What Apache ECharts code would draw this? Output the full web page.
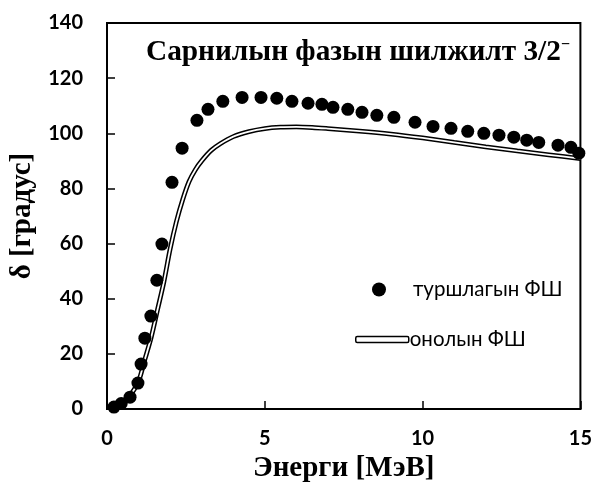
<!DOCTYPE html>
<html>
<head>
<meta charset="utf-8">
<script src="https://cdn.jsdelivr.net/npm/echarts@6/dist/echarts.min.js"></script>
<style>
  html, body { margin: 0; padding: 0; background: #fff; }
  #chart { width: 595px; height: 488px; }
</style>
</head>
<body>
<div id="chart"></div>
<script>
// Энерги (МэВ) ба фазын шилжилт (градус): туршлагын утгууд
const expEnergy = [0.22, 0.45, 0.73, 0.98, 1.08, 1.20, 1.39, 1.58, 1.74, 2.06, 2.38, 2.85, 3.20, 3.67, 4.28, 4.88,
  5.38, 5.86, 6.37, 6.81, 7.16, 7.63, 8.08, 8.55, 9.09, 9.76, 10.33, 10.90, 11.43, 11.94, 12.42, 12.89,
  13.30, 13.68, 14.29, 14.70, 14.95];
const expPhase = [0.7, 2.0, 4.3, 9.4, 16.3, 25.7, 33.7, 46.7, 59.8, 82.2, 94.6, 104.7, 108.7, 111.6, 113.0, 113.0,
  112.7, 111.6, 110.9, 110.5, 109.4, 108.7, 107.6, 106.5, 105.8, 104.0, 102.5, 101.8, 100.7, 100.0, 99.3, 98.6,
  97.5, 96.7, 95.7, 94.9, 92.8];

// Онолын муруй
const theoryEnergy = [0.2, 0.5, 0.8, 1.0, 1.2, 1.4, 1.6, 1.8, 2.0, 2.2, 2.4, 2.6, 2.8, 3.0, 3.3, 3.6, 4.0, 4.5,
  5.0, 5.5, 6.0, 6.5, 7.0, 8.0, 9.0, 10.0, 11.0, 12.0, 13.0, 14.0, 15.0];
const theoryPhase = [0, 2, 6, 10, 18, 26, 36, 46, 58, 68, 76, 82.5, 86.8, 90, 93.8, 96.3, 98.8, 100.6, 101.7,
  102.2, 102.3, 102.1, 101.7, 100.8, 99.7, 98.3, 96.7, 95.1, 93.6, 92.2, 90.8];

const xTicks = [0, 5, 10, 15];
const yTicks = [0, 20, 40, 60, 80, 100, 120, 140];

const expName = 'туршлагын ФШ';
const theoryName = 'онолын ФШ';

const zip = (a, b) => a.map((v, i) => [v, b[i]]);

const tickFont = { fontFamily: 'Lato', fontWeight: 'bold', fontSize: 20, color: '#000' };
const serifBold = { fontFamily: 'Liberation Serif', fontWeight: 'bold', fontSize: 29, color: '#000' };

const chart = echarts.init(document.getElementById('chart'), null, { renderer: 'canvas' });
chart.setOption({
  animation: false,
  backgroundColor: '#fff',
  title: {
    text: 'Сарнилын фазын шилжилт 3/2{sup|−}',
    left: 141,
    top: 32,
    textStyle: Object.assign({}, serifBold, {
      fontSize: 29.3,
      rich: { sup: { fontFamily: 'Liberation Serif', fontWeight: 'bold', fontSize: 16, padding: [0, 0, 15, 0] } }
    })
  },
  grid: {
    left: 107, right: 14, top: 23, bottom: 79,
    show: true, borderColor: '#000', borderWidth: 2
  },
  legend: [
    {
      data: [{ name: expName, icon: 'circle' }],
      left: 367, top: 274,
      itemWidth: 14, itemHeight: 14,
      textStyle: { fontFamily: 'Lato', fontSize: 20.5, color: '#000', padding: [0, 0, 0, 22] }
    },
    {
      data: [{
        name: theoryName, icon: 'roundRect',
        itemStyle: { color: '#fff', borderColor: '#000', borderWidth: 1.5 }
      }],
      left: 350, top: 324,
      itemWidth: 53, itemHeight: 6,
      textStyle: { fontFamily: 'Lato', fontSize: 20.5, color: '#000', padding: [0, 0, 0, -4] }
    }
  ],
  xAxis: {
    type: 'value', min: 0, max: 15, interval: 5,
    name: 'Энерги [МэВ]', nameLocation: 'middle', nameGap: 40,
    nameTextStyle: serifBold,
    axisLine: { show: true, lineStyle: { color: '#000', width: 2 } },
    axisTick: { show: true, inside: true, length: 8, lineStyle: { color: '#000', width: 1.5 } },
    axisLabel: Object.assign({ margin: 20, customValues: xTicks }, tickFont),
    splitLine: { show: false }
  },
  yAxis: {
    type: 'value', min: 0, max: 140, interval: 20,
    name: 'δ [градус]', nameLocation: 'middle', nameGap: 65, nameRotate: 90,
    nameTextStyle: serifBold,
    axisLine: { show: true, lineStyle: { color: '#000', width: 2 } },
    axisTick: { show: true, inside: true, length: 8, lineStyle: { color: '#000', width: 1.5 } },
    axisLabel: Object.assign({ margin: 24 }, tickFont),
    splitLine: { show: false }
  },
  series: [
    {
      name: theoryName, type: 'line', data: zip(theoryEnergy, theoryPhase),
      smooth: 0.3, showSymbol: false, symbol: 'none',
      lineStyle: { color: '#000', width: 4.8 }, itemStyle: { color: '#000' }, z: 2
    },
    {
      name: 'inner', type: 'line', data: zip(theoryEnergy, theoryPhase),
      smooth: 0.3, showSymbol: false, symbol: 'none',
      lineStyle: { color: '#fff', width: 1.8 }, z: 3
    },
    {
      name: expName, type: 'scatter', data: zip(expEnergy, expPhase),
      symbol: 'circle', symbolSize: 13, itemStyle: { color: '#000', opacity: 1 }, z: 4
    }
  ]
});
</script>
</body>
</html>
